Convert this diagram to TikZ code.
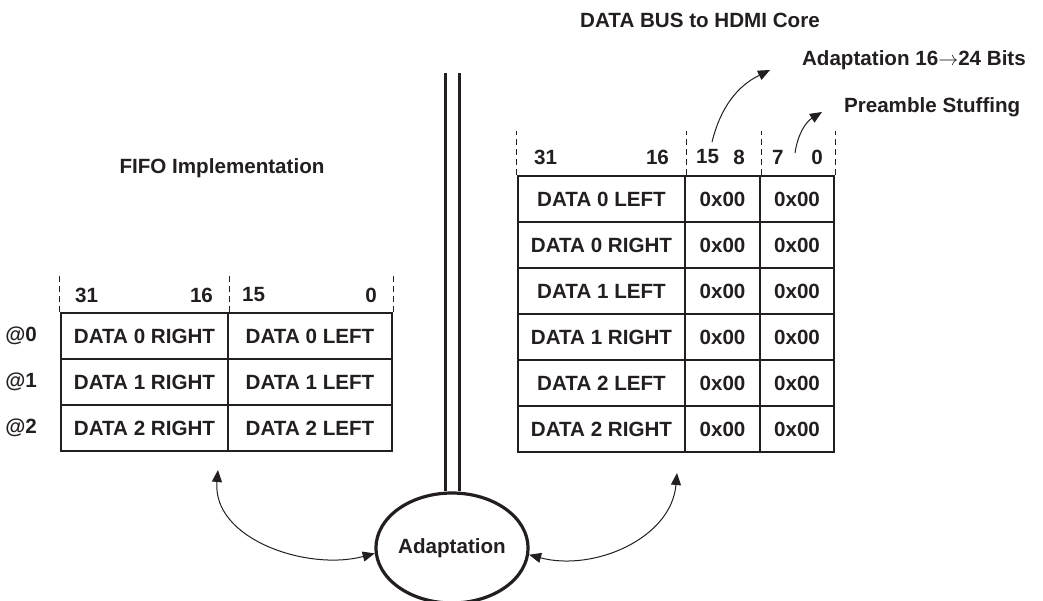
\documentclass[tikz,border=0pt]{standalone}
\usepackage{fontspec}
\setmainfont{Liberation Sans}
\usetikzlibrary{shapes.geometric,arrows.meta}
\definecolor{ink}{RGB}{35,31,32}
\begin{document}
\begin{tikzpicture}[x=0.5pt,y=0.5pt,color=ink,font=\fontsize{10.3}{12}\selectfont\bfseries,
cell/.style={draw,line width=1.2pt,minimum height=23pt,inner sep=0},
tick/.style={line width=0.4pt,dash pattern=on 3pt off 2pt},
flow/.style={line width=0.5pt,{Triangle[length=6pt,width=5pt]}-{Triangle[length=6pt,width=5pt]}},
note/.style={line width=0.5pt,-{Triangle[length=6pt,width=5pt]}},
bus/.style={line width=1.5pt}]
\useasboundingbox(0,0)rectangle(1043,-600);
% FIFO side
\foreach \r/\y in {0/336,1/382,2/428}{\node[cell,minimum width=83.5pt](fr\r)at(144.5,-\y){DATA \r\ RIGHT};\node[cell,minimum width=82pt](fl\r)at(310,-\y){DATA \r\ LEFT};\node[anchor=east](at\r)at(44,-\y){@\r};}
\draw[tick](fr0.north west)--++(0,40);\draw[tick](fr0.north east)--++(0,40);\draw[tick](fl0.north east)--++(0,40);
\node[anchor=west](f31)at(68,-295){31};\node[anchor=east](f16)at(220,-295){16};\node[anchor=west](f15)at(235,-295){15};\node[anchor=east](f0)at(384,-295){0};
\node(fifo)at(222,-168){FIFO Implementation};
% HDMI side
\foreach \t[count=\i from 0] in {DATA 0 LEFT,DATA 0 RIGHT,DATA 1 LEFT,DATA 1 RIGHT,DATA 2 LEFT,DATA 2 RIGHT}{\node[cell,minimum width=83.5pt](hd\i)at(601.5,{-199-46*\i}){\t};\node[cell,minimum width=37.5pt](hm\i)at(722.5,{-199-46*\i}){0x00};\node[cell,minimum width=37pt](hl\i)at(797,{-199-46*\i}){0x00};}
\draw[tick](hd0.north west)--++(0,44);\draw[tick](hd0.north east)--++(0,44);\draw[tick](hm0.north east)--++(0,44);\draw[tick](hl0.north east)--++(0,44);
\node[anchor=west](h31)at(527,-157){31};\node[anchor=east](h16)at(676,-157){16};\node[anchor=west](h15)at(689,-157){15};\node[anchor=east](h8)at(752,-157){8};\node[anchor=west](h7)at(765,-157){7};\node[anchor=east](h0)at(830,-157){0};
\node(hdmi)at(700,-20){DATA BUS to HDMI Core};
\node[anchor=west](adapt)at(795,-60){Adaptation 16$\rightarrow$24 Bits};
\node[anchor=west](pre)at(837,-107){Preamble Stuffing};
\coordinate(s1)at(712,-142);\coordinate(e1)at(770,-70);\draw[note](s1)to[bend left=25](e1);
\coordinate(s2)at(795,-153);\coordinate(e2)at(822,-112);\draw[note](s2)to[bend left=25](e2);
% adaptation
\node[ellipse,draw,line width=1.6pt,minimum width=76pt,minimum height=55pt,inner sep=0](ada)at(452,-548){Adaptation};
\coordinate(b1)at(445,-73);\coordinate(b2)at(459,-73);
\draw[bus](b1)--(b1|-ada.north);\draw[bus](b2)--(b2|-ada.north);
\coordinate(fa)at(218,-470);\coordinate(ha)at(677,-473);
\draw[flow](fa)to[out=-95,in=195](ada.184);
\draw[flow](ada.-5)to[out=-15,in=-95](ha);
\end{tikzpicture}
\end{document}
